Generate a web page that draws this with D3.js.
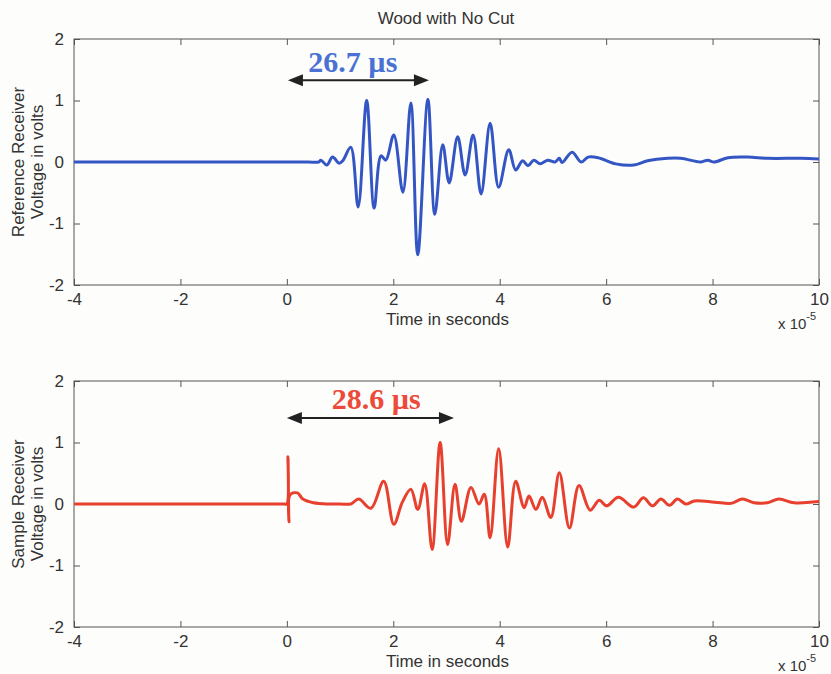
<!DOCTYPE html>
<html>
<head>
<meta charset="utf-8">
<script src="https://cdn.jsdelivr.net/npm/d3@7/dist/d3.min.js"></script>
<style>
  body { margin: 0; background: #fdfdfb; }
  text { font-family: "Liberation Sans", Arial, sans-serif; fill: #333; }
  .tick-label { font-size: 17px; }
  .note { font-family: "Liberation Serif", "Times New Roman", serif; font-weight: bold; font-size: 30px; }
</style>
</head>
<body>
<div id="chart"></div>
<script>
// time in units of 1e-5 s, voltage in volts
const refTime = [-4, -3, -2, -1, 0, 0.4, 0.6, 0.64, 0.75, 0.86, 0.98, 1.05, 1.2, 1.34, 1.5, 1.64, 1.77, 1.86, 2.01, 2.18, 2.33, 2.46, 2.65, 2.78, 2.93, 3.05, 3.21, 3.35, 3.5, 3.65, 3.82, 3.98, 4.17, 4.3, 4.43, 4.53, 4.64, 4.76, 4.9, 5.04, 5.12, 5.17, 5.36, 5.53, 5.66, 5.85, 6.18, 6.52, 6.78, 7.16, 7.4, 7.78, 7.91, 8.03, 8.29, 8.66, 9.04, 9.66, 10];
const refVolt = [0, 0, 0, 0, 0, 0, 0, 0.03, -0.05, 0.08, -0.02, 0.02, 0.24, -0.73, 1.0, -0.75, 0.1, 0.03, 0.44, -0.49, 0.96, -1.51, 1.02, -0.85, 0.28, -0.34, 0.41, -0.21, 0.44, -0.52, 0.63, -0.41, 0.2, -0.13, 0.02, -0.06, 0.03, -0.03, 0.03, 0.0, 0.06, -0.01, 0.16, 0.0, 0.08, 0.07, -0.03, -0.05, 0.02, 0.06, 0.06, 0.0, 0.03, 0.0, 0.07, 0.08, 0.06, 0.06, 0.05];

const sampleTime = [-4, -3, -2, -1, -0.3, -0.05, 0.0, 0.02, 0.04, 0.06, 0.2, 0.3, 0.5, 0.8, 1.0, 1.2, 1.35, 1.58, 1.82, 2.01, 2.17, 2.33, 2.46, 2.59, 2.73, 2.88, 3.02, 3.16, 3.28, 3.46, 3.61, 3.71, 3.82, 3.98, 4.15, 4.3, 4.46, 4.55, 4.68, 4.8, 4.96, 5.12, 5.31, 5.49, 5.7, 5.87, 6.01, 6.23, 6.52, 6.7, 6.87, 7.03, 7.19, 7.34, 7.5, 7.66, 8.04, 8.35, 8.56, 8.78, 9.03, 9.25, 9.53, 10];
const sampleVolt = [0, 0, 0, 0, 0, 0, 0, 0.77, -0.29, 0.15, 0.18, 0.08, 0.02, 0.0, 0.0, 0.0, 0.08, -0.07, 0.37, -0.33, 0.03, 0.24, -0.09, 0.33, -0.74, 1.0, -0.66, 0.32, -0.28, 0.27, 0.0, 0.16, -0.55, 0.9, -0.7, 0.37, -0.06, 0.13, -0.09, 0.11, -0.22, 0.51, -0.39, 0.3, -0.1, 0.06, -0.03, 0.11, -0.05, 0.1, -0.03, 0.08, -0.02, 0.08, 0.0, 0.05, 0.03, 0.01, 0.08, 0.02, 0.02, 0.08, 0.02, 0.04];

const xTicks = [-4, -2, 0, 2, 4, 6, 8, 10];
const yTicks = [-2, -1, 0, 1, 2];

// delay annotations: [start, end] in 1e-5 s
const refDelay = [0.02, 2.67];
const sampleDelay = [0.0, 3.14];

const width = 831;
const height = 674;

const svg = d3.select('#chart').append('svg')
  .attr('width', width)
  .attr('height', height);

svg.append('text')
  .attr('x', 446)
  .attr('y', 24)
  .attr('text-anchor', 'middle')
  .attr('font-size', 17)
  .text('Wood with No Cut');

const panels = [
  {
    top: 39, time: refTime, volt: refVolt, color: '#3456c4', noteColor: '#4a72d4',
    label: ['Reference Receiver', 'Voltage in volts'],
    delay: refDelay, arrowV: 1.33, note: '26.7 µs', noteT: 1.24, noteV: 1.47,
  },
  {
    top: 381, time: sampleTime, volt: sampleVolt, color: '#e8402e', noteColor: '#ec4a3a',
    label: ['Sample Receiver', 'Voltage in volts'],
    delay: sampleDelay, arrowV: 1.4, note: '28.6 µs', noteT: 1.68, noteV: 1.54,
  },
];

const left = 74, right = 819, plotH = 246;
const fmt = (d) => String(d);

panels.forEach((p) => {
  const x = d3.scaleLinear().domain([-4, 10]).range([left, right]);
  const y = d3.scaleLinear().domain([-2, 2]).range([p.top + plotH, p.top]);
  const g = svg.append('g');

  // axes box with inward ticks on all sides
  const axisStyle = (sel) => {
    sel.select('.domain').remove();
    sel.selectAll('line').attr('stroke', '#555');
    sel.selectAll('text').attr('class', 'tick-label').attr('fill', '#333');
  };
  g.append('g')
    .attr('transform', `translate(0,${y(-2)})`)
    .call(d3.axisBottom(x).tickValues(xTicks).tickFormat(fmt).tickSizeInner(-6).tickSizeOuter(0).tickPadding(8))
    .call(axisStyle);
  g.append('g')
    .attr('transform', `translate(0,${y(2)})`)
    .call(d3.axisTop(x).tickValues(xTicks).tickSizeInner(-6).tickSizeOuter(0).tickFormat(''))
    .call(axisStyle);
  g.append('g')
    .attr('transform', `translate(${x(-4)},0)`)
    .call(d3.axisLeft(y).tickValues(yTicks).tickFormat(fmt).tickSizeInner(-6).tickSizeOuter(0).tickPadding(10))
    .call(axisStyle);
  g.append('g')
    .attr('transform', `translate(${x(10)},0)`)
    .call(d3.axisRight(y).tickValues(yTicks).tickSizeInner(-6).tickSizeOuter(0).tickFormat(''))
    .call(axisStyle);

  g.append('rect')
    .attr('x', x(-4)).attr('y', y(2))
    .attr('width', x(10) - x(-4)).attr('height', y(-2) - y(2))
    .attr('fill', 'none').attr('stroke', '#555').attr('stroke-width', 1);

  // waveform
  const pts = p.time.map((t, i) => [t, p.volt[i]]);
  const line = d3.line()
    .x((d) => x(d[0]))
    .y((d) => y(d[1]))
    .curve(d3.curveCatmullRom.alpha(0.5));
  g.append('path')
    .datum(pts)
    .attr('d', line)
    .attr('fill', 'none')
    .attr('stroke', p.color)
    .attr('stroke-width', 3)
    .attr('stroke-linejoin', 'round');

  // axis labels
  g.append('text')
    .attr('x', (left + right) / 2 + 1)
    .attr('y', y(-2) + 40)
    .attr('text-anchor', 'middle')
    .attr('font-size', 17)
    .text('Time in seconds');

  const exp = g.append('text')
    .attr('x', 778)
    .attr('y', y(-2) + 44)
    .attr('font-size', 15);
  exp.append('tspan').text('x 10');
  exp.append('tspan').attr('dy', -9).attr('font-size', 11).text('-5');

  p.label.forEach((s, i) => {
    g.append('text')
      .attr('transform', `translate(${24 + i * 19},${y(0)}) rotate(-90)`)
      .attr('text-anchor', 'middle')
      .attr('font-size', 17)
      .text(s);
  });

  // delay arrow
  const ay = y(p.arrowV);
  const x0 = x(p.delay[0]), x1 = x(p.delay[1]);
  g.append('line')
    .attr('x1', x0 + 10).attr('x2', x1 - 10)
    .attr('y1', ay).attr('y2', ay)
    .attr('stroke', '#222').attr('stroke-width', 2);
  g.append('path')
    .attr('d', `M${x0},${ay} L${x0 + 15},${ay - 6} L${x0 + 15},${ay + 6} Z`)
    .attr('fill', '#222');
  g.append('path')
    .attr('d', `M${x1},${ay} L${x1 - 15},${ay - 6} L${x1 - 15},${ay + 6} Z`)
    .attr('fill', '#222');

  g.append('text')
    .attr('class', 'note')
    .attr('x', x(p.noteT))
    .attr('y', y(p.noteV))
    .attr('text-anchor', 'middle')
    .style('fill', p.noteColor)
    .text(p.note);
});
</script>
</body>
</html>
